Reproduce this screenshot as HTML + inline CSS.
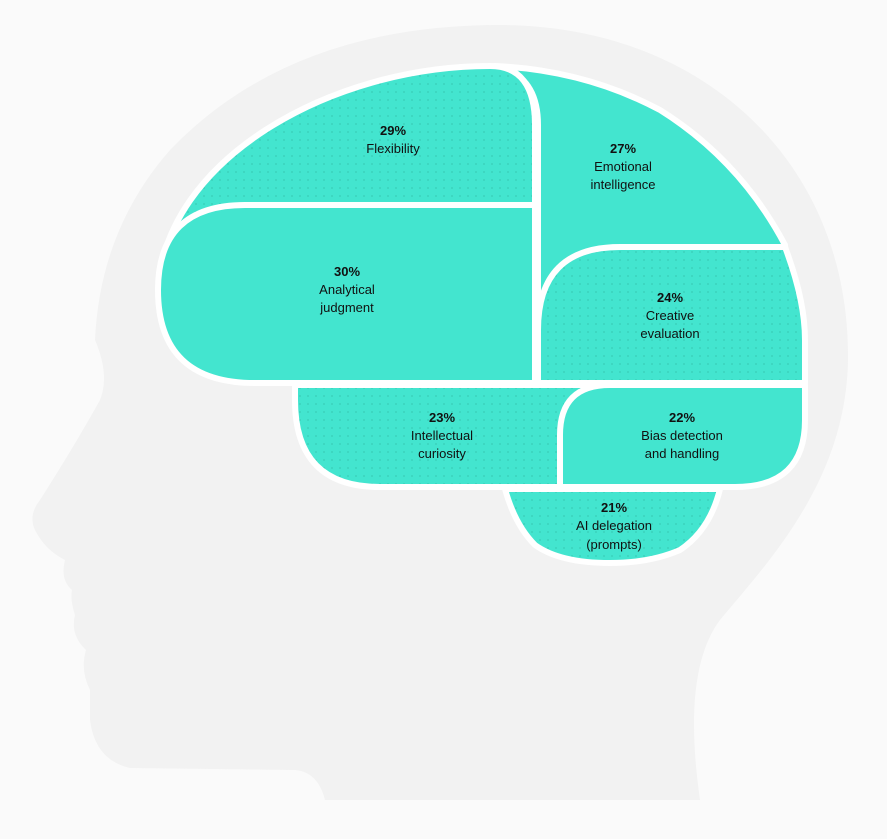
<!DOCTYPE html>
<html><head><meta charset="utf-8"><style>
html,body{margin:0;padding:0;background:#fafafa;}
svg{display:block}
text{font-family:"Liberation Sans",sans-serif;font-size:13px;fill:#111;text-anchor:middle}
.b{font-weight:bold}
</style></head><body>
<svg width="887" height="839" viewBox="0 0 887 839" xmlns="http://www.w3.org/2000/svg">
<defs>
<pattern id="d" width="8" height="8" patternUnits="userSpaceOnUse">
<rect width="8" height="8" fill="#43e5cf"/><circle cx="4" cy="4" r="0.9" fill="#38cdb8"/>
</pattern>
</defs>
<path d="M500,25 C700,25 850,160 848,360 C846,480 770,560 720,620 C690,660 690,730 700,800 L325,800 Q318,772 295,770 L130,768 Q95,760 90,720 L90,690 Q80,670 86,650 Q70,635 75,615 Q70,600 72,590 Q60,580 65,560 Q45,550 35,530 Q28,515 40,500 Q75,445 100,400 Q110,375 95,340 Q100,230 170,150 Q290,25 500,25 Z" fill="#f2f2f2"/>
<g stroke="#fff" stroke-width="6" stroke-linejoin="round">
<path d="M495,66 Q585,70 660,110 Q740,160 785,245 L790,300 L538,300 L538,125 Q538,75 495,66 Z" fill="#43e5cf"/>
<path d="M158,290 C165,160 330,66 490,66 Q535,66 535,125 L535,290 Z" fill="url(#d)"/>
<path d="M538,383 L538,330 Q538,247 620,247 L785,247 Q805,300 805,340 L805,383 Z" fill="url(#d)"/>
<path d="M245,205 L535,205 L535,383 L255,383 Q158,383 158,290 Q158,205 245,205 Z" fill="#43e5cf"/>
<path d="M295,385 L620,385 L620,487 L380,487 Q295,487 295,400 Z" fill="url(#d)"/>
<path d="M610,385 L805,385 L805,420 Q805,487 735,487 L560,487 L560,435 Q560,385 610,385 Z" fill="#43e5cf"/>
<path d="M505,489 L720,489 Q710,530 680,550 Q650,563 610,563 Q560,563 535,545 Q515,525 505,489 Z" fill="url(#d)"/>
</g>
<text x="393" y="135" class="b">29%</text><text x="393" y="153">Flexibility</text>
<text x="623" y="153" class="b">27%</text><text x="623" y="171">Emotional</text><text x="623" y="189">intelligence</text>
<text x="347" y="276" class="b">30%</text><text x="347" y="294">Analytical</text><text x="347" y="312">judgment</text>
<text x="670" y="302" class="b">24%</text><text x="670" y="320">Creative</text><text x="670" y="338">evaluation</text>
<text x="442" y="422" class="b">23%</text><text x="442" y="440">Intellectual</text><text x="442" y="458">curiosity</text>
<text x="682" y="422" class="b">22%</text><text x="682" y="440">Bias detection</text><text x="682" y="458">and handling</text>
<text x="614" y="512" class="b">21%</text><text x="614" y="530">AI delegation</text><text x="614" y="549">(prompts)</text>
</svg>
</body></html>
